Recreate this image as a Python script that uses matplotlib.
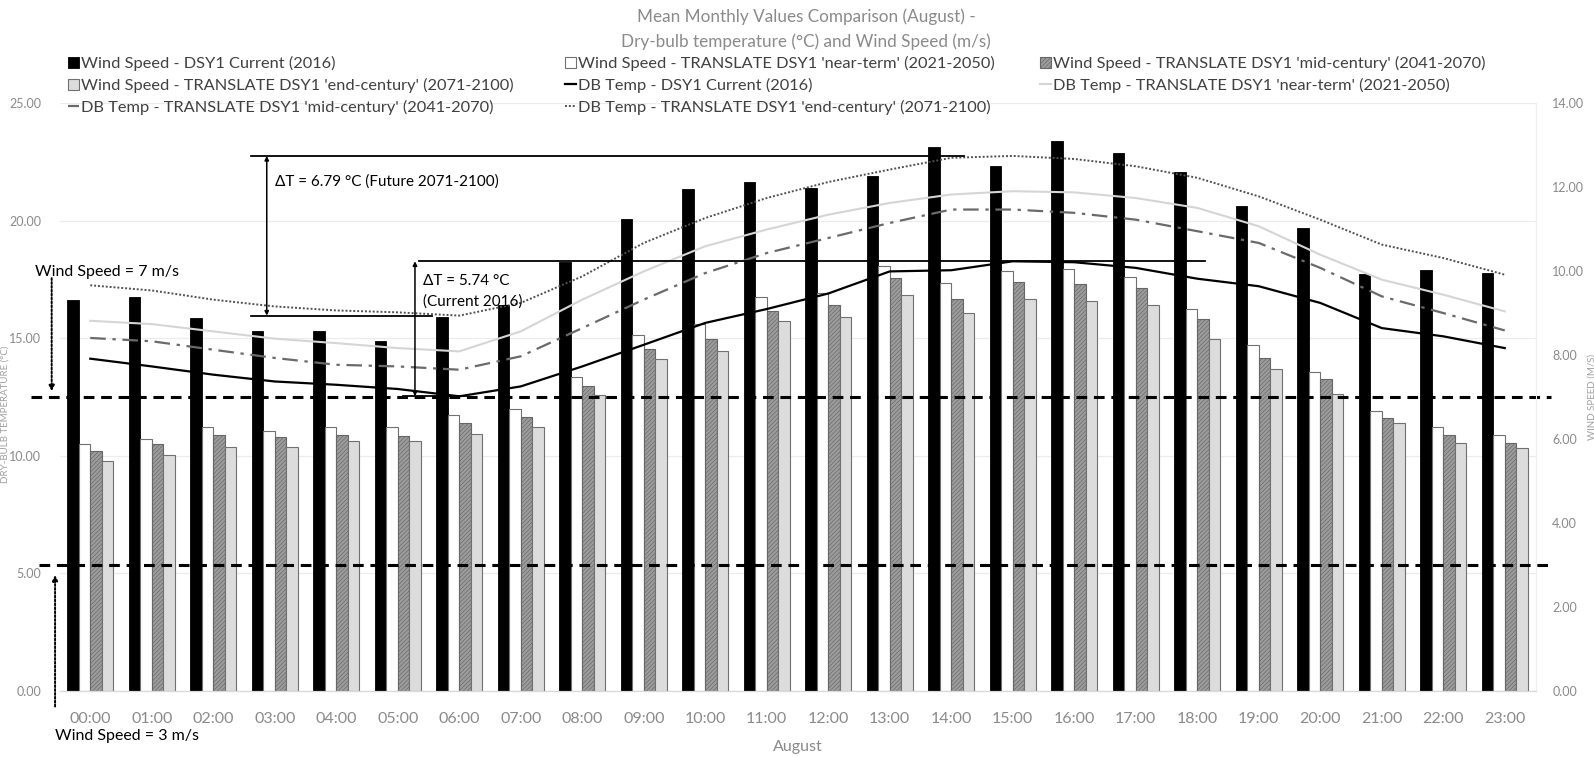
import matplotlib

matplotlib.use("Agg")
import matplotlib.pyplot as plt
import matplotlib.transforms as mtransforms
import numpy as np

plt.rcParams["font.family"] = ["Lato", "DejaVu Sans"]
plt.rcParams["hatch.linewidth"] = 0.45

hours = [f"{h:02d}:00" for h in range(24)]

# wind speed (m/s), August mean per hour
ws_current = [9.32, 9.39, 8.87, 8.58, 8.58, 8.33, 8.90, 9.19, 10.22, 11.24, 11.95, 12.12,
              11.98, 12.27, 12.96, 12.51, 13.10, 12.80, 12.35, 11.55, 11.02, 9.92, 10.02, 9.96]
ws_near = [5.88, 5.99, 6.28, 6.19, 6.28, 6.28, 6.56, 6.71, 7.47, 8.48, 8.75, 9.39,
           9.47, 10.12, 9.71, 10.01, 10.05, 9.86, 9.10, 8.24, 7.59, 6.67, 6.28, 6.10]
ws_mid = [5.71, 5.87, 6.09, 6.05, 6.09, 6.06, 6.39, 6.52, 7.27, 8.14, 8.37, 9.05,
          9.19, 9.83, 9.33, 9.73, 9.69, 9.59, 8.86, 7.94, 7.43, 6.49, 6.10, 5.90]
ws_end = [5.48, 5.62, 5.82, 5.82, 5.95, 5.95, 6.13, 6.28, 7.04, 7.90, 8.10, 8.81,
          8.91, 9.43, 8.99, 9.34, 9.29, 9.19, 8.38, 7.67, 7.07, 6.37, 5.90, 5.78]

# dry-bulb temperature (°C)
db_current = [14.13, 13.80, 13.45, 13.16, 13.02, 12.84, 12.53, 12.95, 13.80, 14.72, 15.65, 16.24,
              16.90, 17.84, 17.89, 18.27, 18.23, 17.99, 17.53, 17.21, 16.50, 15.43, 15.08, 14.58]
db_near = [15.74, 15.60, 15.29, 14.98, 14.79, 14.58, 14.44, 15.29, 16.64, 17.84, 18.91, 19.62,
           20.25, 20.75, 21.11, 21.25, 21.20, 20.96, 20.54, 19.76, 18.55, 17.49, 16.85, 16.14]
db_mid = [15.01, 14.87, 14.51, 14.16, 13.87, 13.80, 13.66, 14.23, 15.43, 16.64, 17.77, 18.62,
          19.26, 19.90, 20.47, 20.47, 20.33, 20.04, 19.55, 19.05, 17.99, 16.78, 16.07, 15.33]
db_end = [17.25, 17.03, 16.64, 16.35, 16.18, 16.10, 15.96, 16.50, 17.63, 19.05, 20.11, 20.96,
          21.64, 22.17, 22.67, 22.75, 22.62, 22.31, 21.82, 21.03, 20.04, 18.98, 18.41, 17.70]

ws_upper = 7
ws_lower = 3

W, H = 1594, 757
GREY_TXT = "#8a8a8a"

fig = plt.figure(figsize=(W / 100, H / 100), dpi=100)
ax = fig.add_axes([59.5 / W, 1 - 691 / H, 1476 / W, 588 / H])
ax_ws = ax.twinx()
ax_ln = ax.twinx()
ax_ln.sharey(ax)

x = np.arange(len(hours))
ax.set_xlim(-0.5, len(hours) - 0.5)
ax.set_ylim(0, 25)
ax_ws.set_ylim(0, 14)

# temperature grid underneath everything
ax.set_yticks(np.arange(0, 26, 5))
ax.yaxis.grid(True, color="#ececec", lw=0.9)
ax.set_axisbelow(True)
ax.yaxis.set_major_formatter(lambda v, p: f"{v:.2f}")
ax.tick_params(axis="y", length=0, labelsize=9, labelcolor=GREY_TXT, pad=13)
ax.tick_params(axis="x", length=0, labelsize=11.5, labelcolor=GREY_TXT, pad=15)
ax.set_xticks(x)
ax.set_xticklabels(hours)
ax.set_xlabel("August", fontsize=11.5, color=GREY_TXT, labelpad=10)
ax.set_ylabel("DRY-BULB TEMPERATURE (°C)", fontsize=7, color="#a0a0a0")
ax.yaxis.set_label_coords((10 - 59.5) / 1476, 0.47)

ax_ws.set_yticks(np.arange(0, 15, 2))
ax_ws.yaxis.set_major_formatter(lambda v, p: f"{v:.2f}")
ax_ws.tick_params(axis="y", length=0, labelsize=9, labelcolor=GREY_TXT, pad=12)
ax_ws.set_ylabel("WIND SPEED (M/S)", fontsize=7, color="#a0a0a0")
ax_ws.yaxis.set_label_coords((1588 - 59.5) / 1476, 0.5)

ax_ln.yaxis.set_visible(False)
for a in (ax, ax_ws, ax_ln):
    for side in ("top", "left"):
        a.spines[side].set_visible(False)
    a.spines["right"].set_color("#efefef")
    a.spines["bottom"].set_color("#d9d9d9")

# wind speed bars
bw = 0.187
b_cur = ax_ws.bar(x - 1.5 * bw, ws_current, bw, color="black", edgecolor="black", lw=0.6,
                  label="Wind Speed - DSY1 Current (2016)")
b_near = ax_ws.bar(x - 0.5 * bw, ws_near, bw, color="white", edgecolor="#707070", lw=0.8,
                   label="Wind Speed - TRANSLATE DSY1 'near-term' (2021-2050)")
b_mid = ax_ws.bar(x + 0.5 * bw, ws_mid, bw, color="#9c9c9c", edgecolor="#666666", lw=0.8,
                  hatch="////////", label="Wind Speed - TRANSLATE DSY1 'mid-century' (2041-2070)")
b_end = ax_ws.bar(x + 1.5 * bw, ws_end, bw, color="#dcdcdc", edgecolor="#707070", lw=0.8,
                  label="Wind Speed - TRANSLATE DSY1 'end-century' (2071-2100)")

# wind speed thresholds, running past the plot edges
ws_tr = mtransforms.blended_transform_factory(ax_ws.transAxes, ax_ws.transData)
ax_ws.plot([-0.0196, 1.0105], [ws_upper, ws_upper], transform=ws_tr, clip_on=False,
           color="black", lw=2.2, ls=(0, (3.5, 2.2)), zorder=5)
ax_ws.plot([-0.014, 1.0105], [ws_lower, ws_lower], transform=ws_tr, clip_on=False,
           color="black", lw=2.2, ls=(0, (3.5, 2.2)), zorder=5)
ax_ws.annotate("", xy=(-0.0053, ws_upper + 0.14), xytext=(-0.0053, 9.83),
               xycoords=ws_tr, textcoords=ws_tr, annotation_clip=False,
               arrowprops=dict(arrowstyle="-|>", ls=(0, (1, 1)), lw=1.4, color="black",
                               mutation_scale=8, shrinkA=0, shrinkB=0))
ax_ws.annotate("", xy=(-0.003, ws_lower - 0.24), xytext=(-0.003, -0.37),
               xycoords=ws_tr, textcoords=ws_tr, annotation_clip=False,
               arrowprops=dict(arrowstyle="-|>", ls=(0, (1, 1)), lw=1.4, color="black",
                               mutation_scale=8, shrinkA=0, shrinkB=0))
fig.text(35 / W, 1 - 272 / H, f"Wind Speed = {ws_upper} m/s", fontsize=11.5, va="center")
fig.text(55 / W, 1 - 736 / H, f"Wind Speed = {ws_lower} m/s", fontsize=11.5, va="center")

# temperature lines
l_cur, = ax_ln.plot(x, db_current, color="black", lw=1.6,
                    label="DB Temp - DSY1 Current (2016)")
l_near, = ax_ln.plot(x, db_near, color="#d5d5d5", lw=1.5,
                     label="DB Temp - TRANSLATE DSY1 'near-term' (2021-2050)")
l_mid, = ax_ln.plot(x, db_mid, color="#6a6a6a", lw=1.6, ls=(0, (7, 3, 1.5, 3)),
                    label="DB Temp - TRANSLATE DSY1 'mid-century' (2041-2070)")
l_end, = ax_ln.plot(x, db_end, color="#505050", lw=1.4, ls=(0, (1, 1)),
                    label="DB Temp - TRANSLATE DSY1 'end-century' (2071-2100)")

# temperature range brackets
arrow_kw = dict(arrowstyle="<|-|>", lw=1.1, color="black", mutation_scale=6,
                shrinkA=0, shrinkB=0)
e_max, e_min = max(db_end), min(db_end)
ax_ln.plot([2.61, 14.20], [e_max, e_max], color="black", lw=1.3, zorder=6)
ax_ln.plot([2.61, 5.56], [e_min, e_min], color="black", lw=1.3, zorder=6)
ax_ln.annotate("", xy=(2.87, e_max), xytext=(2.87, e_min), arrowprops=arrow_kw)
ax_ln.text(3.0, 21.67, f"ΔT = {e_max - e_min:.2f} °C (Future 2071-2100)",
           fontsize=11, va="center")

c_max, c_min = max(db_current), min(db_current)
ax_ln.plot([5.35, 18.13], [c_max, c_max], color="black", lw=1.3, zorder=6)
ax_ln.plot([5.09, 6.13], [c_min, c_min], color="black", lw=1.3, zorder=6)
ax_ln.annotate("", xy=(5.28, c_max), xytext=(5.28, c_min), arrowprops=arrow_kw)
ax_ln.text(5.41, 17.43, f"ΔT = {c_max - c_min:.2f} °C", fontsize=11, va="center")
ax_ln.text(5.41, 16.55, "(Current 2016)", fontsize=11, va="center")

# title
fig.text(806 / W, 1 - 17 / H, "Mean Monthly Values Comparison (August) -",
         ha="center", va="center", fontsize=12.3, color=GREY_TXT)
fig.text(806 / W, 1 - 42 / H, "Dry-bulb temperature (°C) and Wind Speed (m/s)",
         ha="center", va="center", fontsize=12.3, color=GREY_TXT)

# legend laid out in three columns, row-major like the original
columns = [
    (68, [b_cur, b_end, l_mid]),
    (565, [b_near, l_cur, l_end]),
    (1040, [b_mid, l_near]),
]
for left, handles in columns:
    fig.legend(handles=handles, labels=[h.get_label() for h in handles],
               loc="upper left", bbox_to_anchor=(left / W, 1 - 56 / H),
               frameon=False, fontsize=11.8, labelcolor="#404040",
               handlelength=0.65, handleheight=0.65, handletextpad=0.12,
               labelspacing=0.42, borderpad=0, borderaxespad=0)

fig.savefig("out.png", dpi=100)
